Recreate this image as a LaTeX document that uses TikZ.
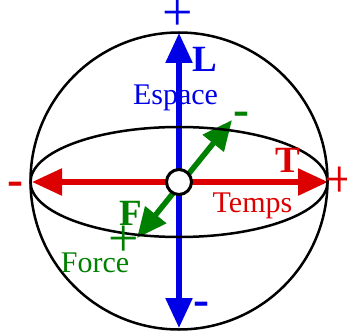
\documentclass[tikz,border=0pt]{standalone}
\usepackage{fontspec}
\setmainfont{Liberation Serif}
\usetikzlibrary{arrows.meta}
\definecolor{cblue}{RGB}{0,0,230}
\definecolor{cred}{RGB}{220,0,0}
\definecolor{cgreen}{RGB}{0,128,0}
\tikzset{
  axis/.style={line width=5.5pt, {Triangle[length=30pt,width=26pt]}-{Triangle[length=30pt,width=26pt]}},
  outline/.style={draw=black, line width=2.5pt},
  label/.style={inner sep=0pt, font=\fontsize{30}{36}\selectfont},
  bigl/.style={inner sep=0pt, font=\fontsize{37}{44}\selectfont\bfseries},
  plus/.style={inner sep=0pt, font=\fontsize{54}{60}\selectfont},
  minus/.style={inner sep=0pt, font=\fontsize{48}{56}\selectfont\bfseries},
}
\begin{document}
\begin{tikzpicture}[x=1pt,y=-1pt]
\useasboundingbox (0,0) rectangle (347,331);
% arrow ends
\coordinate (Ltop) at (179,33);
\coordinate (Lbot) at (179,328);
\coordinate (Tleft) at (32,182);
\coordinate (Tright) at (328,182);
\coordinate (Fup) at (232,120);
\coordinate (Fdown) at (137,238);
% axes
\draw[axis, draw=cblue, fill=cblue] (Lbot) -- (Ltop);
\draw[axis, draw=cred, fill=cred] (Tleft) -- (Tright);
\draw[axis, draw=cgreen, fill=cgreen] (Fdown) -- (Fup);
% sphere
\draw[outline] (179,181) circle (148.5);
\draw[outline] (179,182) ellipse (148.5 and 55);
% centre
\node[circle, draw=black, fill=white, line width=3pt, minimum size=25pt, inner sep=0pt] (O) at (179,182) {};
% labels
\node[label, text=cblue, anchor=base] (esp) at (175.5,105) {Espace};
\node[label, text=cred, anchor=base] (tmp) at (252.5,212) {Temps};
\node[label, text=cgreen, anchor=base] (frc) at (95,272) {Force};
\node[bigl, text=cblue, anchor=base west] (Ll) at (192,72) {L};
\node[bigl, text=cred, anchor=base] (Tl) at (287.5,172) {T};
\node[bigl, text=cgreen, anchor=base west] (Fl) at (119,225) {F};
% signs
\node[plus, text=cblue] (p1) at (178,15) {+};
\node[plus, text=cred] (p2) at (340,182) {+};
\node[plus, text=cgreen] (p3) at (123.5,241) {+};
\node[minus, text=cred, anchor=base] (m1) at (15,195.5) {-};
\node[minus, text=cgreen, anchor=base] (m2) at (241.5,125.5) {-};
\node[minus, text=cblue, anchor=base] (m3) at (201.5,315.5) {-};
\end{tikzpicture}
\end{document}
